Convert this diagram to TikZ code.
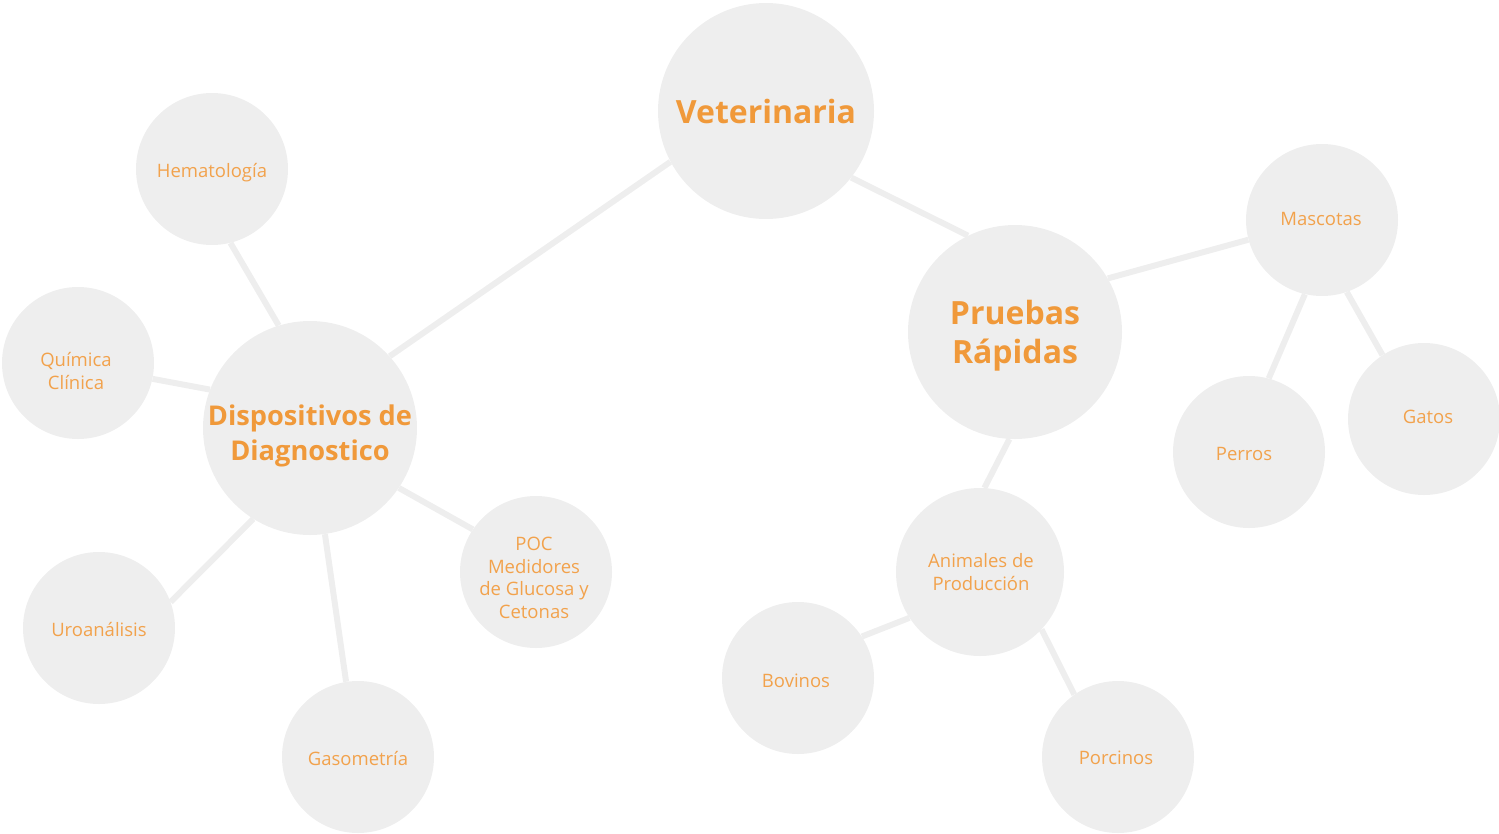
\documentclass[tikz,border=0pt]{standalone}
\usepackage{fontspec}
\setmainfont{Open Sans}
\usetikzlibrary{backgrounds}
\definecolor{bub}{HTML}{EEEEEE}
\definecolor{org}{HTML}{F0993A}
\definecolor{orgl}{HTML}{F2A24C}
\tikzset{
  link/.style={draw=bub, line width=6pt},
  bubble/.style={circle, fill=bub, minimum size=#1, inner sep=0pt},
  bigtxt/.style={align=center, text=org, font=\bfseries\fontsize{32}{39}\selectfont},
  midtxt/.style={align=center, text=org, font=\bfseries\fontsize{27.2}{35}\selectfont},
  leaftxt/.style={align=center, text=orgl, font=\fontsize{18.5}{22.5}\selectfont},
}
\begin{document}
\begin{tikzpicture}[x=1pt,y=-1pt]
\useasboundingbox (0,0) rectangle (1499,833);
\node[bubble=216pt, label={[bigtxt]center:Veterinaria}] (V) at (766,111) {};
\node[bubble=214pt, label={[bigtxt, yshift=-4pt]center:{Pruebas\\Rápidas}}] (P) at (1015,332) {};
\node[bubble=214pt, label={[midtxt, yshift=-8pt]center:{Dispositivos de\\Diagnostico}}] (D) at (310,428) {};
\node[bubble=152pt, label={[leaftxt, yshift=-4pt]center:Hematología}] (H) at (212,169) {};
\node[bubble=152pt, label={[leaftxt, yshift=-8pt, xshift=-2pt]center:{Química\\Clínica}}] (Q) at (78,363) {};
\node[bubble=152pt, label={[leaftxt, yshift=-1pt]center:Uroanálisis}] (U) at (99,628) {};
\node[bubble=152pt, label={[leaftxt, yshift=-1pt]center:Gasometría}] (G) at (358,757) {};
\node[bubble=152pt, label={[leaftxt, yshift=-6pt, xshift=-2pt]center:{POC\\Medidores\\de Glucosa y\\Cetonas}}] (O) at (536,572) {};
\node[bubble=152pt, label={[leaftxt, yshift=1pt, xshift=-1pt]center:Mascotas}] (M) at (1322,220) {};
\node[bubble=152pt, label={[leaftxt, yshift=-2pt, xshift=-5pt]center:Perros}] (Pe) at (1249,452) {};
\node[bubble=152pt, label={[leaftxt, yshift=2pt, xshift=4pt]center:Gatos}] (Ga) at (1424,419) {};
\node[bubble=168pt, label={[leaftxt, xshift=1pt]center:{Animales de\\Producción}}] (A) at (980,572) {};
\node[bubble=152pt, label={[leaftxt, yshift=-3pt, xshift=-2pt]center:Bovinos}] (B) at (798,678) {};
\node[bubble=152pt, label={[leaftxt, yshift=-1pt, xshift=-2pt]center:Porcinos}] (Po) at (1118,757) {};
\begin{pgfonlayer}{background}
\draw[link] (V.-38.6) -- (P.116.6);
\draw[link] (V.208) -- (D.42.4);
\draw[link] (D.107.3) -- (H.-76.3);
\draw[link] (D.159.2) -- (Q.-12.9);
\draw[link] (D.238.6) -- (U.20.1);
\draw[link] (D.-82) -- (G.99.2);
\draw[link] (D.-34.3) -- (O.146.7);
\draw[link] (P.30.6) -- (M.195.1);
\draw[link] (M.257) -- (Pe.75.6);
\draw[link] (M.-71.6) -- (Ga.123.3);
\draw[link] (P.-93.7) -- (A.87.3);
\draw[link] (A.213.3) -- (B.33.5);
\draw[link] (A.-43.1) -- (Po.125.4);
\end{pgfonlayer}
\end{tikzpicture}
\end{document}
